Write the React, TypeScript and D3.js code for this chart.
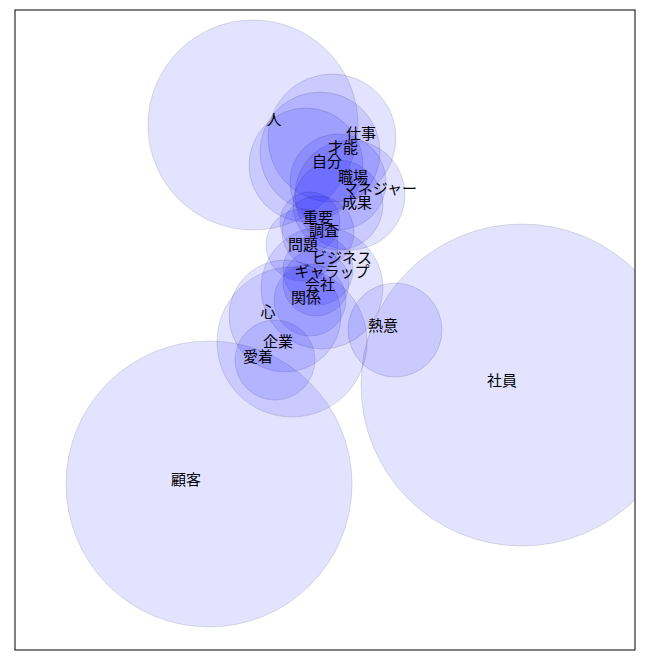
import * as d3 from "d3";
import { useEffect, useRef } from "react";

// words, bubble centres / radii (data units) and label anchors
const words = [
  "人", "仕事", "才能", "自分", "職場", "マネジャー", "成果", "重要", "調査", "問題",
  "ビジネス", "ギャラップ", "会社", "関係", "心", "企業", "愛着", "熱意", "社員", "顧客",
];
const cx = [2.38, 3.17, 3.05, 2.91, 3.23, 3.35, 3.23, 2.95, 3.03, 2.87, 3.07, 3.03, 3.01, 2.95, 2.70, 2.77, 2.60, 3.80, 5.07, 1.94];
const cy = [5.25, 5.12, 4.98, 4.85, 4.68, 4.55, 4.45, 4.28, 4.18, 4.05, 3.62, 3.80, 3.67, 3.50, 3.34, 3.08, 2.90, 3.20, 2.65, 1.66];
const rad = [1.05, 0.64, 0.60, 0.57, 0.48, 0.55, 0.45, 0.30, 0.36, 0.36, 0.61, 0.35, 0.33, 0.36, 0.56, 0.75, 0.40, 0.47, 1.61, 1.43];
const lx = [2.59, 3.46, 3.28, 3.12, 3.38, 3.65, 3.42, 3.03, 3.09, 2.88, 3.27, 3.17, 3.05, 2.91, 2.53, 2.63, 2.43, 3.68, 4.87, 1.71];
const ly = [5.32, 5.18, 5.04, 4.90, 4.75, 4.63, 4.49, 4.34, 4.21, 4.07, 3.94, 3.80, 3.67, 3.54, 3.40, 3.10, 2.95, 3.26, 2.71, 1.72];

export default function App() {
  const ref = useRef<SVGSVGElement | null>(null);

  useEffect(() => {
    if (!ref.current) return;
    const svg = d3.select(ref.current);
    svg.selectAll("*").remove();

    const W = 660, H = 660;
    const m = { top: 10, right: 25, bottom: 10, left: 15 };
    const w = W - m.left - m.right;
    const h = H - m.top - m.bottom;

    const x = d3.scaleLinear().domain([0, 6.2]).range([0, w]);
    const y = d3.scaleLinear().domain([0, 6.4]).range([h, 0]);

    svg.append("defs").append("clipPath").attr("id", "frame")
      .append("rect").attr("width", w).attr("height", h);

    const g = svg.append("g").attr("transform", `translate(${m.left},${m.top})`);

    const data = words.map((word, i) => ({ word, cx: cx[i], cy: cy[i], r: rad[i], lx: lx[i], ly: ly[i] }));

    g.append("g").attr("clip-path", "url(#frame)")
      .selectAll("circle")
      .data(data)
      .join("circle")
      .attr("cx", (d) => x(d.cx))
      .attr("cy", (d) => y(d.cy))
      .attr("r", (d) => x(d.r) - x(0))
      .attr("fill", "#0000ff")
      .attr("fill-opacity", 0.11)
      .attr("stroke", "#000")
      .attr("stroke-opacity", 0.12)
      .attr("stroke-width", 1);

    g.append("g")
      .selectAll("text")
      .data(data)
      .join("text")
      .attr("x", (d) => x(d.lx))
      .attr("y", (d) => y(d.ly))
      .attr("text-anchor", "middle")
      .attr("dominant-baseline", "central")
      .attr("font-family", "'Noto Sans CJK JP', sans-serif")
      .attr("font-size", 15)
      .attr("fill", "#000")
      .text((d) => d.word);

    g.append("rect")
      .attr("width", w).attr("height", h)
      .attr("fill", "none")
      .attr("stroke", "#000")
      .attr("stroke-width", 1);
  }, []);

  return <svg ref={ref} width={660} height={660} style={{ position: "absolute", left: 0, top: 0 }} />;
}
